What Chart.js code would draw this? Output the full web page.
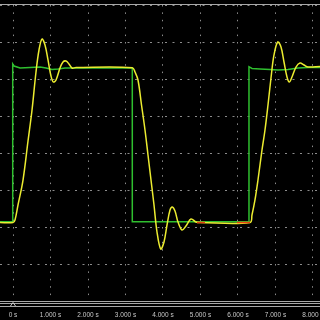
<!DOCTYPE html>
<html>
<head>
<meta charset="utf-8">
<script src="https://cdn.jsdelivr.net/npm/chart.js@4/dist/chart.umd.min.js"></script>
<style>
  html, body { margin: 0; padding: 0; background: #000; }
  canvas { display: block; }
</style>
</head>
<body>
<canvas id="scope" width="320" height="320"></canvas>
<script>
// valores (tiempo en s, amplitud en divisiones)
const xMin = -0.347;
const xMax = 8.187;
const xTicks = [0, 1, 2, 3, 4, 5, 6, 7, 8];
const tickLabels = ['0 s', '1.000 s', '2.000 s', '3.000 s', '4.000 s', '5.000 s', '6.000 s', '7.000 s', '8.000 s'];
const yTicks = [-4, -3, -2, -1, 0, 1, 2, 3, 4];

// canal amarillo (respuesta)
const yellowT = [-0.347, 0, 0.053, 0.133, 0.267, 0.400, 0.507, 0.613, 0.693, 0.773, 0.853, 0.933, 1.013, 1.075, 1.147, 1.253, 1.333, 1.413, 1.493, 1.573, 1.68,
  3.181, 3.253, 3.333, 3.427, 3.520, 3.600, 3.680, 3.760, 3.840, 3.939, 4.027, 4.107, 4.187, 4.248, 4.320, 4.400, 4.507, 4.613, 4.747, 4.880, 4.987,
  6.320, 6.373, 6.453, 6.533, 6.640, 6.720, 6.800, 6.880, 6.960, 7.059, 7.147, 7.227, 7.307, 7.368, 7.440, 7.547, 7.653, 7.760, 7.867, 8.187];
const yellowV = [-1.878, -1.878, -1.811, -1.405, -0.730, 0.324, 1.162, 2.189, 2.784, 3.081, 2.919, 2.514, 2.081, 1.919, 1.973, 2.297, 2.459, 2.486, 2.405, 2.297, 2.311,
  2.305, 2.189, 1.973, 1.297, 0.622, -0.054, -0.730, -1.405, -2.135, -2.595, -2.405, -1.946, -1.541, -1.459, -1.568, -1.865, -2.081, -1.973, -1.784, -1.865, -1.878,
  -1.878, -1.676, -1.270, -0.730, 0.081, 0.622, 1.297, 2.027, 2.649, 3.000, 2.865, 2.459, 2.054, 1.919, 2.054, 2.324, 2.432, 2.378, 2.324, 2.338];

// canal verde (consigna)
const greenT = [-0.347, -0.008, -0.008, 0.027, 0.187, 0.453, 0.72, 0.88, 1.04, 1.2, 1.387, 1.653, 3.181, 3.181, 6.293, 6.293, 6.373, 6.587, 6.853, 7.067, 7.333, 7.6, 7.867, 8.187];
const greenV = [-1.857, -1.857, 2.405, 2.351, 2.297, 2.311, 2.324, 2.297, 2.257, 2.270, 2.297, 2.297, 2.297, -1.857, -1.857, 2.332, 2.284, 2.270, 2.257, 2.243, 2.257, 2.297, 2.311, 2.311];

// canal rojo (apenas visible)
const redT = [4.907, 5.12, 5.2, 5.973, 6.32];
const redV = [-1.88, -1.88, null, -1.88, -1.88];

function toPoints(ts, vs) {
    return ts.map((t, i) => ({ x: t, y: vs[i] }));
}

// fondo negro, bordes y etiquetas del eje de tiempo
const scopeDecor = {
    id: 'scopeDecor',
    beforeDraw(chart) {
        const ctx = chart.ctx;
        ctx.save();
        ctx.fillStyle = '#000';
        ctx.fillRect(0, 0, chart.width, chart.height);
        ctx.restore();
    },
    afterDraw(chart) {
        const ctx = chart.ctx;
        const area = chart.chartArea;
        const xs = chart.scales.x;
        ctx.save();
        ctx.strokeStyle = '#a8a8a8';
        ctx.lineWidth = 1;
        [area.top - 0.5, area.bottom + 0.5, area.bottom + 2.5, area.bottom + 5.5].forEach(y => {
            ctx.beginPath();
            ctx.moveTo(0, y);
            ctx.lineTo(chart.width, y);
            ctx.stroke();
        });
        // marcador de disparo
        const tx = xs.getPixelForValue(0);
        ctx.strokeStyle = '#d0d0d0';
        ctx.beginPath();
        ctx.moveTo(tx - 2.5, area.bottom + 5);
        ctx.lineTo(tx, area.bottom + 1.5);
        ctx.lineTo(tx + 2.5, area.bottom + 5);
        ctx.stroke();
        // etiquetas
        ctx.fillStyle = '#c8c8c8';
        ctx.font = '6.5px "Liberation Sans", Arial, sans-serif';
        ctx.textAlign = 'center';
        ctx.textBaseline = 'middle';
        xTicks.forEach((t, i) => {
            ctx.fillText(tickLabels[i], xs.getPixelForValue(t), 315);
        });
        ctx.restore();
    }
};

const chart = new Chart(document.getElementById('scope').getContext('2d'), {
    type: 'line',
    data: {
        datasets: [{
            label: 'C',
            data: toPoints(redT, redV),
            borderColor: '#e8400c',
            borderWidth: 1.5,
            pointRadius: 0,
            spanGaps: false,
            tension: 0
        }, {
            label: 'B',
            data: toPoints(yellowT, yellowV),
            borderColor: '#ecec30',
            borderWidth: 1.5,
            pointRadius: 0,
            tension: 0.35
        }, {
            label: 'A',
            data: toPoints(greenT, greenV),
            borderColor: '#2fbf2f',
            borderWidth: 1.5,
            pointRadius: 0,
            tension: 0
        }]
    },
    options: {
        responsive: false,
        animation: false,
        devicePixelRatio: 1,
        layout: {
            autoPadding: false,
            padding: { top: 5, bottom: 19, left: 0, right: 0 }
        },
        plugins: {
            legend: { display: false },
            tooltip: { enabled: false }
        },
        scales: {
            x: {
                type: 'linear',
                min: xMin,
                max: xMax,
                afterBuildTicks: (scale) => { scale.ticks = xTicks.map(v => ({ value: v })); },
                ticks: { display: false },
                grid: { color: '#8c8c8c', lineWidth: 1, drawTicks: false },
                border: { display: false, dash: [1.5, 5.9] }
            },
            y: {
                type: 'linear',
                min: -4,
                max: 4,
                afterBuildTicks: (scale) => { scale.ticks = yTicks.map(v => ({ value: v })); },
                ticks: { display: false },
                grid: { color: '#8c8c8c', lineWidth: 1, drawTicks: false },
                border: { display: false, dash: [2, 5.5] }
            }
        }
    },
    plugins: [scopeDecor]
});
</script>
</body>
</html>
